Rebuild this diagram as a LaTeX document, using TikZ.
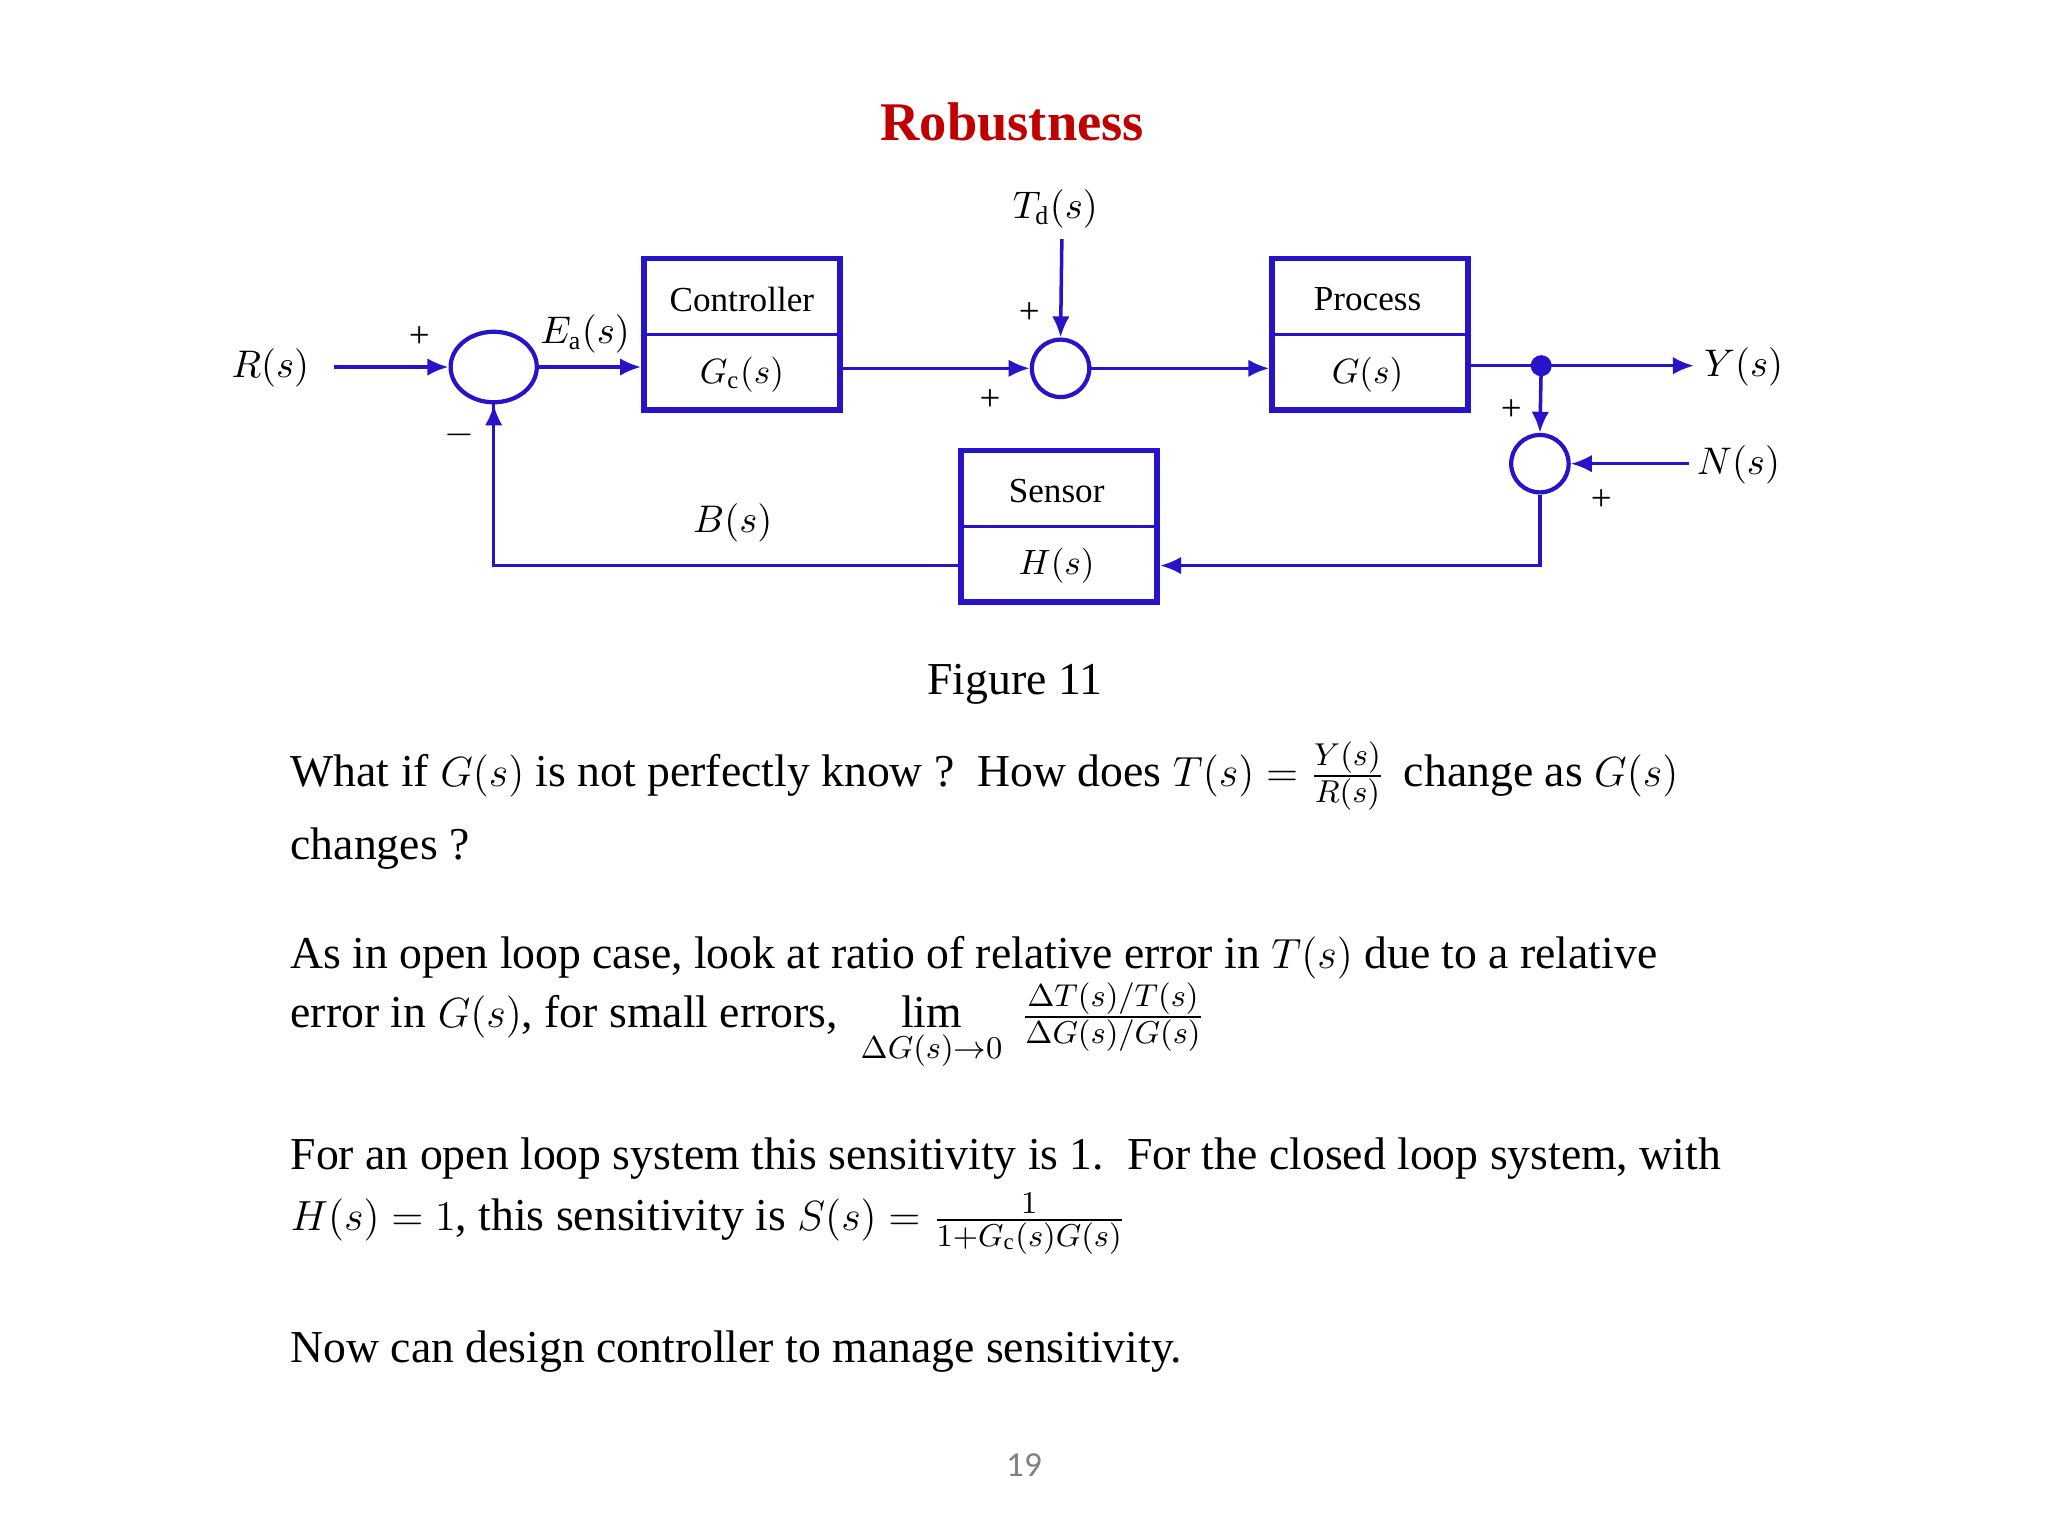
\documentclass[tikz,border=0pt]{standalone}
\usepackage{fontspec}
\setmainfont{Liberation Serif}
\newfontfamily\pgsans{Carlito}
\usepackage{amsmath}
\usetikzlibrary{arrows.meta,shapes.geometric}
\definecolor{bl}{RGB}{40,20,200}
\definecolor{tred}{RGB}{192,0,0}
\begin{document}
\begin{tikzpicture}[x=0.01306cm,y=-0.01306cm,
  box/.style={draw=bl,line width=1.6pt,minimum width=150*0.01306cm,minimum height=116*0.01306cm,inner sep=0pt},
  bl1/.style={font=\fontsize{10}{12}\selectfont,inner sep=0pt},
  ln/.style={draw=bl,line width=1pt},
  ar/.style={ln,-{Latex[length=6pt,width=5pt]}},
  sm/.style={draw=bl,line width=1.2pt,circle,minimum size=44*0.01306cm,inner sep=0pt},
  lb/.style={font=\fontsize{10.5}{12}\selectfont},
  bt/.style={anchor=west,font=\fontsize{13}{15}\selectfont,inner sep=0pt}]
\useasboundingbox (0,0) rectangle (1568,1176);
\node[font=\fontsize{15.5}{18}\selectfont\bfseries,text=tred] (title) at (775,93) {Robustness};
% blocks
\node[box] (cb) at (568,256) {};
\node[box] (pb) at (1049,256) {};
\node[box] (sb) at (811,403) {};
\node[bl1] (c1) at (568,229) {Controller};
\node[bl1] (c2) at (568,287) {$G_{\mathrm c}(s)$};
\node[bl1] (p1) at (1047,229) {Process};
\node[bl1] (p2) at (1047,287) {$G(s)$};
\node[bl1] (s1) at (809,376) {Sensor};
\node[bl1] (s2) at (809,433) {$H(s)$};
\draw[ln] (cb.west) -- (cb.east);
\draw[ln] (pb.west) -- (pb.east);
\draw[ln] (sb.west) -- (sb.east);
\node[draw=bl,line width=1.2pt,ellipse,minimum width=66*0.01306cm,minimum height=54*0.01306cm,inner sep=0pt] (e1) at (378,281) {};
\node[sm] (e2) at (812,282) {};
\node[sm] (e3) at (1179,355) {};
\fill[bl] (1180,280) circle (3pt) coordinate (j);
\node[lb] (R) at (207,282) {$R(s)$};
\node[lb] (Y) at (1335,281) {$Y(s)$};
\node[lb] (N) at (1331,356) {$N(s)$};
\node[lb] (T) at (808,160) {$T_{\mathrm d}(s)$};
\node[lb] (Ea) at (448,256) {$E_{\mathrm a}(s)$};
\node[lb] (B) at (561,400) {$B(s)$};
\foreach \p/\t in {{321,258}/+,{352,333}/$-$,{788,240}/+,{758,306}/+,{1157,314}/+,{1226,383}/+}
  \node[lb] at (\p) {\t};
\coordinate (r0) at (256,281);
\coordinate (y0) at (1297,280);
\coordinate (n0) at (1293,355);
\coordinate (t0) at (813,183);
\draw[ar] (r0) -- (e1.west);
\draw[ar] (e1.east) -- (e1.east -| cb.west);
\draw[ar] (cb.east |- e2) -- (e2.west);
\draw[ar] (e2.east) -- (e2.east -| pb.west);
\draw[ln] (pb.east |- j) -- (j);
\draw[ar] (j) -- (y0);
\draw[ar] (j) -- (e3.north);
\draw[ar] (n0) -- (e3.east);
\draw[ar] (t0) -- (e2.north);
\draw[ar] (e3.south) |- (sb.east |- s2);
\draw[ln] (sb.west |- s2) -| (e1.south);
\draw[ar] (378,340) -- (e1.south);
\node[font=\fontsize{13}{15}\selectfont] (fig) at (777,524) {Figure 11};
\node[bt] (l1) at (222,594) {What if $G(s)$ is not perfectly know ?\ \ How does $T(s)=\tfrac{Y(s)}{R(s)}$ \,change as $G(s)$};
\node[bt] (l2) at (222,650) {changes ?};
\node[bt] (l3) at (222,733) {As in open loop case, look at ratio of relative error in $T(s)$ due to a relative};
\node[bt] (l4) at (222,786) {error in $G(s)$, for small errors, \ $\lim\limits_{\Delta G(s)\to 0}\;\tfrac{\Delta T(s)/T(s)}{\Delta G(s)/G(s)}$};
\node[bt] (l5) at (222,887) {For an open loop system this sensitivity is 1.\ \ For the closed loop system, with};
\node[bt] (l6) at (222,937) {$H(s)=1$, this sensitivity is $S(s)=\tfrac{1}{1+G_{\mathrm c}(s)G(s)}$};
\node[bt] (l7) at (222,1035) {Now can design controller to manage sensitivity.};
\node[font=\fontsize{10}{12}\selectfont\pgsans,text=gray] (pg) at (784,1122) {19};
\end{tikzpicture}
\end{document}
